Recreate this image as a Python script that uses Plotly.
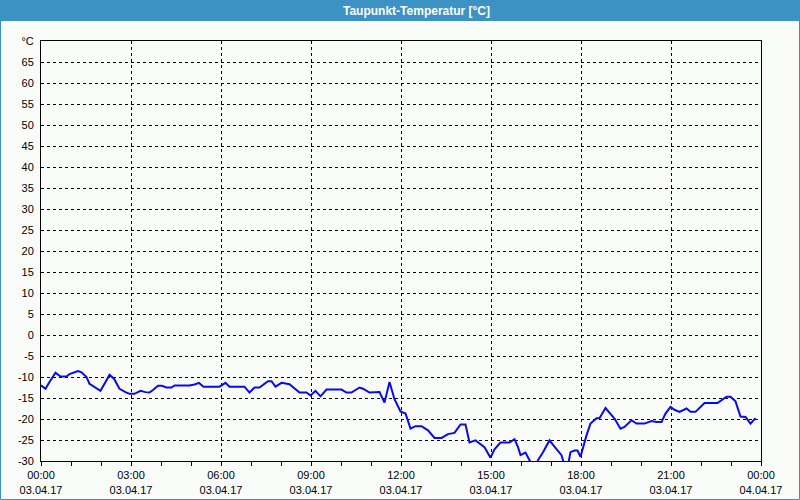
import plotly.graph_objects as go

# ---- data ----
times = ["00:00","00:09","00:17","00:29","00:39","00:51","00:57","01:14","01:21","01:31",
         "01:37","01:47","01:59","02:07","02:17","02:26","02:37","02:49","02:57","03:07",
         "03:19","03:29","03:37","03:44","03:54","04:02","04:11","04:21","04:27","04:37",
         "04:57","05:07","05:16","05:25","05:41","05:57","06:09","06:17","06:47","06:57",
         "07:07","07:17","07:34","07:41","07:49","08:01","08:17","08:27","08:37","08:51",
         "08:59","09:09","09:19","09:31","10:01","10:11","10:21","10:37","10:44","10:57",
         "11:07","11:17","11:27","11:37","11:47","11:59","12:09","12:19","12:29","12:41",
         "12:54","13:07","13:21","13:34","13:47","13:59","14:09","14:17","14:29","14:47",
         "14:59","15:07","15:19","15:37","15:47","15:54","15:59","16:09","16:17","16:24",
         "16:30","16:34","16:44","16:57","17:11","17:21","17:27","17:34","17:39","17:47",
         "17:53","17:59","18:11","18:19","18:31","18:37","18:49","18:57","19:07","19:19",
         "19:27","19:41","19:51","20:07","20:21","20:31","20:41","20:49","20:59","21:07",
         "21:17","21:31","21:39","21:49","22:07","22:33","22:42","22:51","22:59","23:09",
         "23:19","23:29","23:39","23:49"]
dew_point = [-12.0,-12.8,-11.2,-9.0,-9.9,-9.9,-9.3,-8.6,-8.9,-10.0,
             -11.6,-12.4,-13.3,-11.6,-9.5,-10.4,-12.8,-13.6,-14.0,-14.0,
             -13.3,-13.6,-13.7,-13.1,-12.1,-12.1,-12.5,-12.5,-12.0,-12.0,
             -12.0,-11.8,-11.4,-12.3,-12.3,-12.3,-11.4,-12.3,-12.3,-13.7,
             -12.5,-12.5,-11.0,-11.0,-12.3,-11.4,-11.7,-12.6,-13.7,-13.7,
             -14.4,-13.3,-14.6,-13.0,-13.0,-13.7,-13.7,-12.5,-12.8,-13.7,
             -13.7,-13.6,-16.1,-11.2,-15.3,-18.2,-18.7,-22.3,-21.7,-21.7,
             -22.7,-24.5,-24.5,-23.6,-23.3,-21.3,-21.3,-25.6,-25.1,-26.7,
             -29.2,-27.2,-25.6,-25.6,-24.8,-26.7,-28.6,-28.0,-29.8,-31.0,
             -31.0,-29.8,-27.9,-25.1,-27.2,-28.6,-31.0,-31.0,-27.9,-27.5,
             -27.5,-29.0,-23.9,-21.1,-19.8,-19.8,-17.4,-18.5,-19.9,-22.3,
             -21.9,-20.3,-21.1,-21.1,-20.5,-20.7,-20.7,-18.7,-17.1,-17.8,
             -18.3,-17.5,-18.3,-18.3,-16.2,-16.2,-15.4,-14.7,-14.7,-15.8,
             -19.4,-19.5,-21.1,-19.8]
day = "2017-04-03"
x_tick_times = ["2017-04-03 00:00","2017-04-03 03:00","2017-04-03 06:00","2017-04-03 09:00",
                "2017-04-03 12:00","2017-04-03 15:00","2017-04-03 18:00","2017-04-03 21:00",
                "2017-04-04 00:00"]
x_tick_labels = ["00:00<br>03.04.17","03:00<br>03.04.17","06:00<br>03.04.17","09:00<br>03.04.17",
                 "12:00<br>03.04.17","15:00<br>03.04.17","18:00<br>03.04.17","21:00<br>03.04.17",
                 "00:00<br>04.04.17"]
y_tick_vals = [-30,-25,-20,-15,-10,-5,0,5,10,15,20,25,30,35,40,45,50,55,60,65,70]
y_tick_labels = [str(v) for v in y_tick_vals[:-1]] + ["°C"]
title_text = "Taupunkt-Temperatur [°C]"

x = [day + " " + t for t in times]

BLUE = "#3d92c4"
BG = "#fafcfa"
FONT = "Liberation Sans, Arial, sans-serif"

fig = go.Figure()
fig.add_trace(go.Scatter(x=x, y=dew_point, mode="lines",
                         line=dict(color="#0a0af0", width=2), hoverinfo="skip"))

L, R, T, B = 41, 39, 41, 39
W, H = 800, 500
pw, ph = W - L - R, H - T - B


def px(xp):
    return (xp - L) / pw


def py(yp):
    return (H - B - yp) / ph


fig.update_layout(
    width=W, height=H,
    margin=dict(l=L, r=R, t=T, b=B, pad=0, autoexpand=False),
    paper_bgcolor=BG, plot_bgcolor=BG,
    showlegend=False,
    font=dict(family=FONT, size=11, color="black"),
    xaxis=dict(
        type="date", automargin=False,
        range=["2017-04-03 00:00", "2017-04-04 00:00"],
        tickmode="array", tickvals=x_tick_times, ticktext=x_tick_labels,
        ticks="outside", ticklen=4, tickcolor="black", tickwidth=1,
        showgrid=True, gridcolor="black", gridwidth=1, griddash="3px,3px",
        showline=True, linecolor="black", linewidth=1, mirror=True,
        zeroline=False,
        minor=dict(ticks="outside", ticklen=4, tickcolor="black", tickwidth=1,
                   dtick=3600000, tick0="2017-04-03 00:00", showgrid=False),
        tickfont=dict(family=FONT, size=11, color="black"),
    ),
    yaxis=dict(
        automargin=False,
        range=[-30, 70],
        tickmode="array", tickvals=y_tick_vals, ticktext=y_tick_labels,
        ticks="", ticklabelstandoff=4,
        showgrid=True, gridcolor="black", gridwidth=1, griddash="3px,3px",
        showline=True, linecolor="black", linewidth=1, mirror=True,
        zeroline=False,
        tickfont=dict(family=FONT, size=11, color="black"),
    ),
    shapes=[
        dict(type="rect", xref="paper", yref="paper",
             x0=px(-2), x1=px(W + 2), y0=py(21), y1=py(-2),
             fillcolor=BLUE, line=dict(width=0), layer="above"),
        dict(type="rect", xref="paper", yref="paper",
             x0=px(0.5), x1=px(W - 0.5), y0=py(H - 0.5), y1=py(10),
             fillcolor="rgba(0,0,0,0)", line=dict(color=BLUE, width=1), layer="above"),
    ],
    annotations=[
        dict(text="<b>" + title_text + "</b>", xref="paper", yref="paper",
             x=px(416), y=py(10.5), xanchor="center", yanchor="middle",
             showarrow=False, font=dict(family=FONT, size=12, color="white")),
    ],
)

fig.write_html("out.html")
